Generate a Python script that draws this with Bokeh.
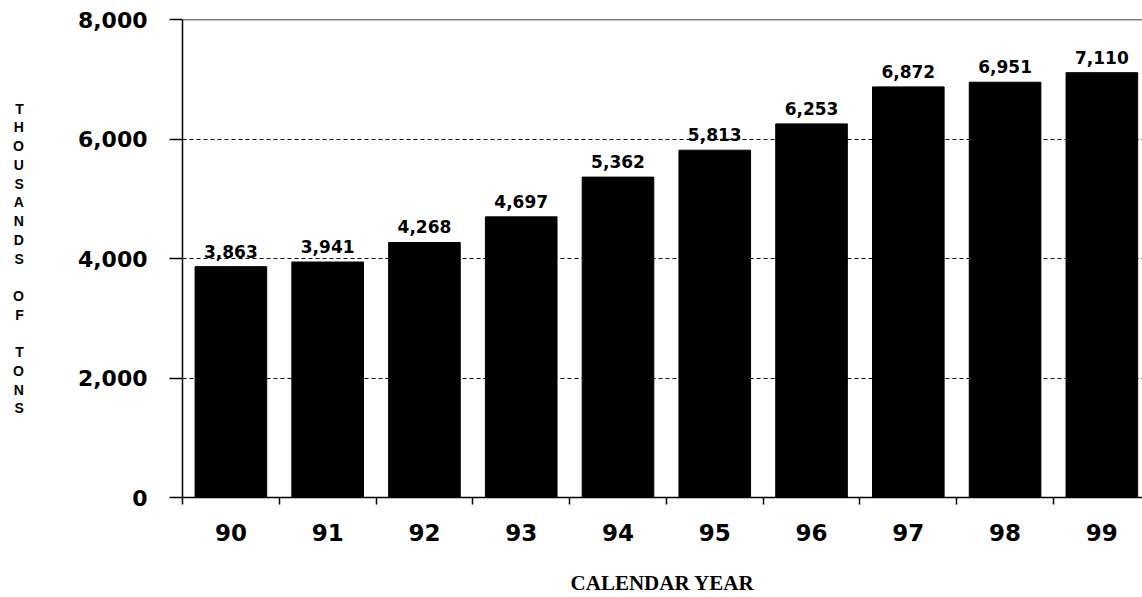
from bokeh.plotting import figure
from bokeh.models import (ColumnDataSource, FixedTicker, Span, LabelSet,
                          NumeralTickFormatter, Range1d)
from bokeh.core.properties import value
from bokeh.embed import file_html
from bokeh.resources import INLINE

years = ["90", "91", "92", "93", "94", "95", "96", "97", "98", "99"]
tons = [3863, 3941, 4268, 4697, 5362, 5813, 6253, 6872, 6951, 7110]
labels = ["3,863", "3,941", "4,268", "4,697", "5,362", "5,813", "6,253", "6,872", "6,951", "7,110"]
y_ticks = [0, 2000, 4000, 6000, 8000]
y_title = "THOUSANDS OF TONS"
x_title = "CALENDAR YEAR"

xpos = [i + 0.5 for i in range(len(years))]
src = ColumnDataSource(dict(x=xpos, top=tons, lab=labels))

p = figure(width=1142, height=597, output_backend="svg", toolbar_location=None,
           x_range=Range1d(0, 9.92), y_range=Range1d(0, 8000),
           min_border_left=182, min_border_right=0, min_border_top=19,
           min_border_bottom=100)
p.outline_line_color = None
p.background_fill_color = "white"
p.border_fill_color = "white"

p.vbar(x="x", top="top", bottom=0, width=0.74, source=src,
       fill_color="black", line_color="black")

p.add_layout(LabelSet(x="x", y="top", text="lab", source=src, y_offset=9,
                      text_align="center", text_baseline="alphabetic",
                      text_font=value("DejaVu Sans"), text_font_style="bold",
                      text_font_size="17px", text_color="black"))

# top border
p.add_layout(Span(location=8000, dimension="width", line_color="black", line_width=1.5))

# grid
p.xgrid.visible = False
p.ygrid.ticker = FixedTicker(ticks=[2000, 4000, 6000])
p.ygrid.grid_line_color = "black"
p.ygrid.grid_line_dash = "4 3"
p.ygrid.grid_line_width = 1

# y axis
stacked = "\n".join(" " if ch == " " else ch for ch in y_title)
ya = p.yaxis[0]
ya.ticker = FixedTicker(ticks=y_ticks, minor_ticks=[])
ya.formatter = NumeralTickFormatter(format="0,0")
ya.major_tick_out = 13
ya.major_tick_in = 0
ya.minor_tick_line_color = None
ya.major_label_standoff = 22
ya.major_label_text_font = "DejaVu Sans"
ya.major_label_text_font_style = "bold"
ya.major_label_text_font_size = "22px"
ya.major_label_text_color = "black"
ya.axis_line_width = 1.5
ya.axis_line_color = "black"
ya.major_tick_line_width = 1.5
ya.axis_label = stacked
ya.axis_label_orientation = "horizontal"
ya.axis_label_standoff = 51
ya.axis_label_text_font = "Liberation Sans"
ya.axis_label_text_font_style = "bold"
ya.axis_label_text_font_size = "14px"
ya.axis_label_text_line_height = 1.17
ya.axis_label_text_align = "center"
ya.axis_label_text_color = "black"

# x axis
xa = p.xaxis[0]
xa.ticker = FixedTicker(ticks=xpos, minor_ticks=list(range(len(years) + 1)))
xa.major_label_overrides = {x: y for x, y in zip(xpos, years)}
xa.major_tick_line_color = None
xa.major_tick_out = 7
xa.minor_tick_out = 7
xa.minor_tick_in = 0
xa.minor_tick_line_color = "black"
xa.minor_tick_line_width = 1.5
xa.major_label_standoff = 19
xa.major_label_text_font = "DejaVu Sans"
xa.major_label_text_font_style = "bold"
xa.major_label_text_font_size = "23px"
xa.major_label_text_line_height = 1.0
xa.major_label_text_color = "black"
xa.axis_line_width = 1.5
xa.axis_line_color = "black"
xa.axis_label = x_title
xa.axis_label_text_font = "Liberation Serif"
xa.axis_label_text_font_style = "bold"
xa.axis_label_text_font_size = "21px"
xa.axis_label_text_line_height = 1.0
xa.axis_label_text_color = "black"
xa.axis_label_standoff = 27

open("out.html", "w").write(file_html(p, INLINE))
